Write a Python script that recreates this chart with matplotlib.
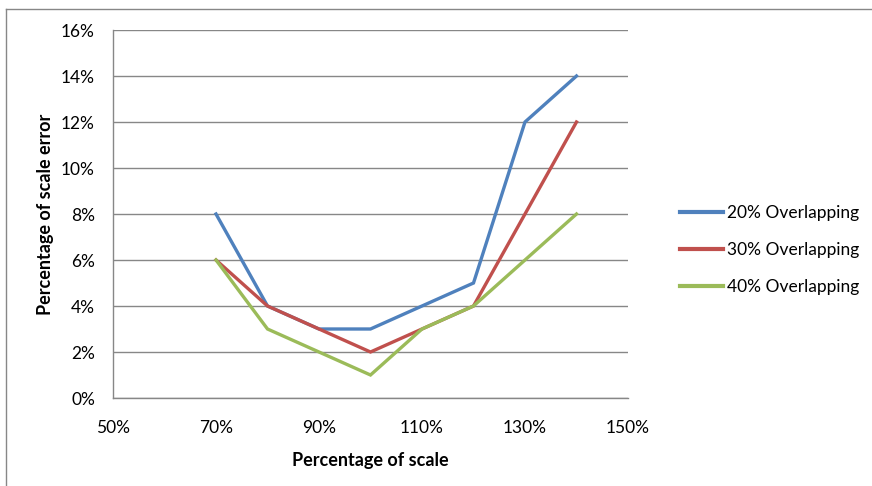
import matplotlib.pyplot as plt
from matplotlib.lines import Line2D
from matplotlib.ticker import FuncFormatter

plt.rcParams["font.family"] = ["Lato", "DejaVu Sans"]

scale = [70, 80, 90, 100, 110, 120, 130, 140]
overlap_20 = [8, 4, 3, 3, 4, 5, 12, 14]
overlap_30 = [6, 4, 3, 2, 3, 4, 8, 12]
overlap_40 = [6, 3, 2, 1, 3, 4, 6, 8]
series_names = ["20% Overlapping", "30% Overlapping", "40% Overlapping"]
colors = ["#4F81BD", "#C0504D", "#9BBB59"]

fig = plt.figure(figsize=(8.72, 4.86), dpi=100)
ax = fig.add_axes([113 / 872, 1 - 398 / 486, 515 / 872, 368 / 486])

for vals, name, c in zip([overlap_20, overlap_30, overlap_40], series_names, colors):
    ax.plot(scale, vals, color=c, lw=2.4, label=name, solid_joinstyle="miter")

ax.set_xlim(50, 150)
ax.set_ylim(0, 16)
ax.set_xticks(range(50, 151, 20))
ax.set_yticks(range(0, 17, 2))
pct = FuncFormatter(lambda v, _: f"{v:.0f}%")
ax.xaxis.set_major_formatter(pct)
ax.yaxis.set_major_formatter(pct)
ax.tick_params(length=0, labelsize=12.5, colors="black")
ax.tick_params(axis="x", pad=16)
ax.tick_params(axis="y", pad=13)

ax.grid(axis="y", color="#878787", lw=1)
ax.set_axisbelow(True)
for side in ["top", "right"]:
    ax.spines[side].set_visible(False)
for side in ["left", "bottom"]:
    ax.spines[side].set_color("#878787")
    ax.spines[side].set_linewidth(1)

ax.set_xlabel("Percentage of scale", fontsize=13, fontweight="bold", labelpad=11)
ax.set_ylabel("Percentage of scale error", fontsize=13, fontweight="bold", labelpad=5)

ax.legend(loc="center left", bbox_to_anchor=(1.07, 0.402), frameon=False,
          fontsize=12.5, handlelength=2.5, handletextpad=0.25, labelspacing=1.2)
for handle in ax.get_legend().legend_handles:
    handle.set_linewidth(3.0)

# chart area border
fig.add_artist(Line2D([6 / 872, 6 / 872], [0, 1 - 9 / 486], color="#878787", lw=1))
fig.add_artist(Line2D([6 / 872, 1], [1 - 9 / 486, 1 - 9 / 486], color="#878787", lw=1))

fig.savefig("out.png", dpi=100)
